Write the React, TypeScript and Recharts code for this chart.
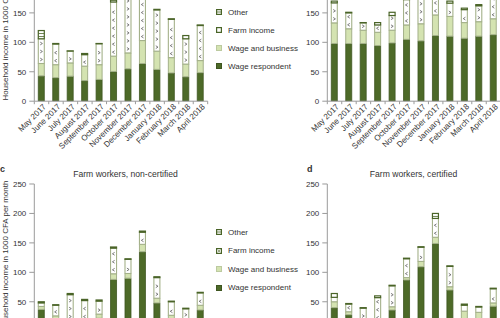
import React from 'react';
import { BarChart, Bar, XAxis, YAxis, Legend } from 'recharts';

const MONTHS = [
  'May 2017', 'June 2017', 'July 2017', 'August 2017', 'September 2017', 'October 2017',
  'November 2017', 'December 2017', 'January 2018', 'February 2018', 'March 2018', 'April 2018',
];

// panel a (top left)
const A_WAGE = [43, 40, 42.5, 35, 37, 50.5, 55, 64, 54, 48, 41.5, 48.5];
const A_BUSINESS = [21, 22, 22.5, 24.5, 25, 26, 27, 39, 31, 26, 21.5, 20.5];
const A_FARM = [42, 35, 20, 19.5, 35.5, 92, 110, 85, 70, 65, 43, 59.5];
const A_OTHER = [14, 1, 0.5, 2, 0.5, 3, 2, 2, 1, 1, 5.5, 1];

// panel b (top right)
const B_WAGE = [98, 98, 98, 94.5, 99, 105, 102.5, 111.5, 110.5, 107, 110.5, 113];
const B_BUSINESS = [35, 25, 22.5, 22.5, 21.5, 24.5, 29, 35, 33.5, 26.5, 24.5, 27];
const B_FARM = [34, 27, 12.5, 12.5, 25, 43, 45, 30, 22.5, 22, 27, 40];
const B_OTHER = [3, 1, 0.5, 4, 5.5, 2, 2, 2, 3.5, 2.5, 2, 2];

// panel c: farm workers, non-certified
const C_WAGE = [37, 20, 14, 12, 22, 88, 90, 135, 48, 18, 16, 36];
const C_BUSINESS = [5, 6, 4, 6, 7, 9.5, 8, 12.5, 8, 9, 5, 8];
const C_FARM = [6, 18, 44, 34, 22, 43.5, 24, 20.5, 35, 23, 17, 21];
const C_OTHER = [2, 1, 2, 2, 2, 2, 1, 2, 1.5, 1, 1, 1];

// panel d: farm workers, certified
const D_WAGE = [40, 28, 15, 12, 36, 87, 109.5, 149, 70, 20, 20, 42.5];
const D_BUSINESS = [10, 5, 4, 4, 5.5, 4, 9, 10.5, 5.5, 14, 12, 5.5];
const D_FARM = [7.5, 13, 20, 41, 35.5, 32, 24, 32, 34.5, 10, 9, 24];
const D_OTHER = [6.5, 1, 1, 3, 1, 1, 1, 8.5, 1, 2, 1, 1];

const Y_TICKS = [0, 50, 100, 150, 200, 250];
const Y_TITLE = 'Household income in 1000 CFA per month';

const SERIES = [
  { key: 'wage', name: 'Wage respondent' },
  { key: 'business', name: 'Wage and business' },
  { key: 'farm', name: 'Farm income' },
  { key: 'other', name: 'Other' },
];

const FONT = '"Liberation Sans", Arial, sans-serif';
const TEXT = '#333';
const AXIS = '#9a9a9a';
const DARK = '#4d6a28';
const DARK_EDGE = '#3e5520';
const LIGHT = '#d4e3b1';
const LIGHT_EDGE = '#a4b18a';
const OTHER_EDGE = '#4a6428';

const Y_AXIS_W = 34.3;
const PLOT_W = 173.4;
const PLOT_H = 147.2;
const X_AXIS_H = 60;
const TOP_PAD = 14;

const toRows = (wage: number[], business: number[], farm: number[], other: number[]) =>
  MONTHS.map((month, i) => ({ month, wage: wage[i], business: business[i], farm: farm[i], other: other[i] }));

const ROWS_A = toRows(A_WAGE, A_BUSINESS, A_FARM, A_OTHER);
const ROWS_B = toRows(B_WAGE, B_BUSINESS, B_FARM, B_OTHER);
const ROWS_C = toRows(C_WAGE, C_BUSINESS, C_FARM, C_OTHER);
const ROWS_D = toRows(D_WAGE, D_BUSINESS, D_FARM, D_OTHER);

const FarmShape = (props: any) => {
  const { x, y, width, height, index } = props;
  if (!height || height <= 0) return <g />;
  const cx = x + width / 2;
  const dir = index % 2 === 0 ? 1 : -1;
  const marks = [];
  for (let my = y + height - 4; my > y + 2.5; my -= 8) {
    marks.push(
      <path
        key={my}
        d={`M${cx - 1.1 * dir},${my - 1.4}L${cx + 1.1 * dir},${my}L${cx - 1.1 * dir},${my + 1.4}`}
        fill="none"
        stroke="#555"
        strokeWidth={0.75}
      />
    );
  }
  return (
    <g>
      <rect x={x} y={y} width={width} height={height} fill="#fff" stroke={LIGHT_EDGE} strokeWidth={1.1} />
      {marks}
    </g>
  );
};

const OtherShape = (props: any) => {
  const { x, y, width, height } = props;
  if (!height || height <= 0) return <g />;
  const lines = [];
  for (let ly = y + 3; ly < y + height - 1.5; ly += 3) {
    lines.push(<line key={ly} x1={x} x2={x + width} y1={ly} y2={ly} stroke={OTHER_EDGE} strokeWidth={0.8} />);
  }
  return (
    <g>
      <rect x={x} y={y} width={width} height={height} fill="#fff" stroke={OTHER_EDGE} strokeWidth={1.2} />
      {lines}
    </g>
  );
};

const MonthTick = (props: any) => {
  const { x, payload, index } = props;
  const half = PLOT_W / MONTHS.length / 2;
  const axisY = TOP_PAD + PLOT_H;
  const tx = x + 3;
  const ty = axisY + 4;
  return (
    <g>
      <line x1={x - half} x2={x - half} y1={axisY} y2={axisY + 3} stroke={AXIS} />
      {index === MONTHS.length - 1 && (
        <line x1={x + half} x2={x + half} y1={axisY} y2={axisY + 3} stroke={AXIS} />
      )}
      <text
        x={tx}
        y={ty}
        dy="0.35em"
        textAnchor="end"
        transform={`rotate(-45 ${tx} ${ty})`}
        fontSize={8.1}
        fontFamily={FONT}
        fill={TEXT}
      >
        {payload.value}
      </text>
    </g>
  );
};

const yTitle = (props: any) => {
  const vb = props.viewBox || { x: 0, y: TOP_PAD, height: PLOT_H };
  const cx = vb.x + 5.5;
  const cy = vb.y + vb.height / 2 - 2;
  return (
    <text
      x={cx}
      y={cy}
      transform={`rotate(-90 ${cx} ${cy})`}
      textAnchor="middle"
      dominantBaseline="central"
      fontSize={8}
      fontFamily={FONT}
      fill={TEXT}
    >
      {Y_TITLE}
    </text>
  );
};

const Marker = ({ k, hatched }: { k: string; hatched: boolean }) => {
  if (k === 'wage') return <rect x={0.5} y={0.5} width={5} height={5} fill={DARK} stroke={DARK_EDGE} />;
  if (k === 'business') return <rect x={0.5} y={0.5} width={5} height={5} fill={LIGHT} stroke="#bccaa0" />;
  if (k === 'farm')
    return (
      <g>
        <rect x={0.6} y={0.6} width={4.8} height={4.8} fill="#fff" stroke={OTHER_EDGE} strokeWidth={1.2} />
        {hatched && <path d="M1.8,1.8L4.2,4.2M4.2,1.8L1.8,4.2" stroke="#7f8f66" strokeWidth={0.8} />}
      </g>
    );
  return (
    <g>
      <rect x={0.6} y={0.6} width={4.8} height={4.8} fill="#fff" stroke={OTHER_EDGE} strokeWidth={1.2} />
      <line x1={1} x2={5} y1={3} y2={3} stroke={OTHER_EDGE} strokeWidth={0.8} />
    </g>
  );
};

const LegendBox = ({ rowH, hatched }: { rowH: number; hatched: boolean }) => (
  <div style={{ fontSize: 8, color: TEXT, fontFamily: FONT, whiteSpace: 'nowrap' }}>
    {[...SERIES].reverse().map((s) => (
      <div key={s.key} style={{ display: 'flex', alignItems: 'center', height: rowH }}>
        <svg width={6} height={6} style={{ marginRight: 6, display: 'block' }}>
          <Marker k={s.key} hatched={hatched} />
        </svg>
        <span>{s.name}</span>
      </div>
    ))}
  </div>
);

type PanelProps = {
  rows: any[];
  left: number;
  plotTop: number;
  withTitle?: boolean;
  legend?: { left: number; top: number; rowH: number; hatched: boolean };
};

// plotTop is where the 250 gridline sits on the page
const Panel = ({ rows, left, plotTop, withTitle, legend }: PanelProps) => (
  <div style={{ position: 'absolute', left, top: plotTop - TOP_PAD }}>
    <BarChart
      width={Y_AXIS_W + PLOT_W + 6}
      height={TOP_PAD + PLOT_H + X_AXIS_H}
      data={rows}
      margin={{ top: TOP_PAD, right: 6, bottom: 0, left: 0 }}
    >
      <XAxis
        dataKey="month"
        interval={0}
        height={X_AXIS_H}
        stroke={AXIS}
        tickLine={false}
        tick={<MonthTick />}
      />
      <YAxis
        width={Y_AXIS_W}
        domain={[0, 250]}
        ticks={Y_TICKS}
        allowDataOverflow
        stroke={AXIS}
        tickSize={5}
        tickMargin={3}
        tick={{ fontSize: 8, fill: TEXT, fontFamily: FONT }}
        label={withTitle ? yTitle : undefined}
      />
      {legend && (
        <Legend
          layout="vertical"
          align="center"
          verticalAlign="middle"
          wrapperStyle={{
            left: legend.left - left,
            top: legend.top - (plotTop - TOP_PAD),
            width: 'auto',
            height: 'auto',
          }}
          content={() => <LegendBox rowH={legend.rowH} hatched={legend.hatched} />}
        />
      )}
      <Bar dataKey="wage" name="Wage respondent" stackId="s" barSize={6} fill={DARK} stroke={DARK_EDGE} strokeWidth={0.8} isAnimationActive={false} />
      <Bar dataKey="business" name="Wage and business" stackId="s" barSize={6} fill={LIGHT} stroke={LIGHT_EDGE} strokeWidth={1} isAnimationActive={false} />
      <Bar dataKey="farm" name="Farm income" stackId="s" barSize={6} fill="#fff" shape={FarmShape} isAnimationActive={false} />
      <Bar dataKey="other" name="Other" stackId="s" barSize={6} fill="#fff" shape={OtherShape} isAnimationActive={false} />
    </BarChart>
  </div>
);

export default function App() {
  return (
    <div
      style={{
        position: 'absolute', left: 0, top: 0, width: 500, height: 318,
        overflow: 'hidden', background: '#fff', fontFamily: FONT, color: TEXT,
      }}
    >
      <Panel rows={ROWS_A} left={0} plotTop={-46.5} withTitle legend={{ left: 216, top: 3.3, rowH: 18, hatched: false }} />
      <Panel rows={ROWS_B} left={292.5} plotTop={-46.5} />
      <Panel rows={ROWS_C} left={0} plotTop={183.9} withTitle legend={{ left: 216, top: 222.8, rowH: 18.5, hatched: true }} />
      <Panel rows={ROWS_D} left={292.5} plotTop={183.9} />

      <div style={{ position: 'absolute', left: 0, top: 164, fontSize: 9, fontWeight: 'bold' }}>c</div>
      <div style={{ position: 'absolute', left: 125.5, top: 169, fontSize: 8.6, transform: 'translateX(-50%)', whiteSpace: 'nowrap' }}>
        Farm workers, non-certified
      </div>
      <div style={{ position: 'absolute', left: 307, top: 164, fontSize: 9, fontWeight: 'bold' }}>d</div>
      <div style={{ position: 'absolute', left: 413.5, top: 169, fontSize: 8.6, transform: 'translateX(-50%)', whiteSpace: 'nowrap' }}>
        Farm workers, certified
      </div>
    </div>
  );
}
